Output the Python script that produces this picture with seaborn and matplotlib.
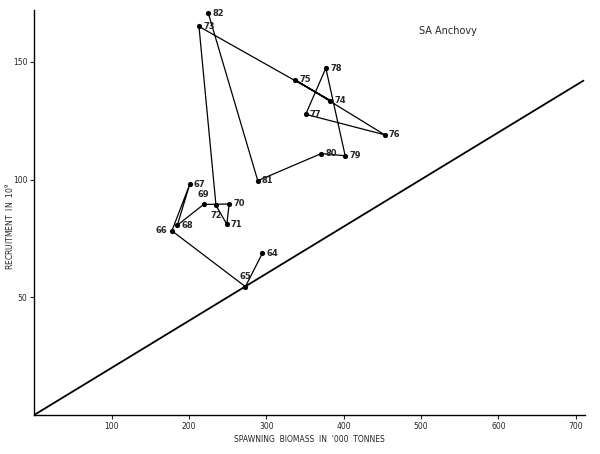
import matplotlib
matplotlib.use("Agg")
import matplotlib.pyplot as plt
import seaborn as sns
import pandas as pd

sns.set_theme(style="white")
plt.rcParams['font.family'] = ['DejaVu Sans']

# spawning biomass ('000 t) and recruitment (10^9) by year
years = ["64", "65", "66", "67", "68", "69", "70", "71", "72", "73", "74",
         "75", "76", "77", "78", "79", "80", "81", "82"]
biomass = [295, 273, 178, 201, 185, 219, 252, 249, 235, 213, 383,
           337, 453, 351, 377, 402, 371, 289, 225]
recruits = [68.7, 54.5, 78.2, 97.9, 80.6, 89.4, 89.6, 81.0, 89.0, 165.0, 133.5,
            142.4, 119.0, 127.7, 147.3, 110.1, 111.0, 99.5, 170.7]

# replacement line
rep_x = [0, 710]
rep_y = [0, 142]

df = pd.DataFrame({"year": years, "biomass": biomass, "recruits": recruits})

fig = plt.figure(figsize=(6, 4.54), dpi=100)
ax = fig.add_axes([0.057, 0.086, 0.918, 0.892])

sns.lineplot(x=rep_x, y=rep_y, ax=ax, color="black", lw=1.3)
sns.lineplot(data=df, x="biomass", y="recruits", sort=False, ax=ax,
             color="black", lw=0.9, estimator=None)
sns.scatterplot(data=df, x="biomass", y="recruits", ax=ax, color="black",
                s=14, linewidth=0, zorder=3)

# label placement (points offset), default right of the dot
offsets = {"66": (-3, 0, "right", "center"), "69": (0, 4, "center", "bottom"),
           "72": (0, -4, "center", "top"), "65": (0, 4, "center", "bottom")}
for yr, xv, yv in zip(years, biomass, recruits):
    dx, dy, ha, va = offsets.get(yr, (3, 0, "left", "center"))
    ax.annotate(yr, (xv, yv), xytext=(dx, dy), textcoords="offset points",
                ha=ha, va=va, fontsize=6, fontweight="bold")

ax.text(497, 163, "SA Anchovy", fontsize=7, ha="left", va="center")

ax.set_xlim(0, 712)
ax.set_ylim(0, 172)
ax.set_xticks([100, 200, 300, 400, 500, 600, 700])
ax.set_yticks([50, 100, 150])
ax.tick_params(axis="both", labelsize=5.5, length=3, width=0.8, direction="out",
               left=True, bottom=True, pad=2)
ax.set_xlabel("SPAWNING  BIOMASS  IN  '000  TONNES", fontsize=5.5, labelpad=3)
ax.set_ylabel("RECRUITMENT  IN  10$^9$", fontsize=5.5)
ax.yaxis.set_label_coords(-0.033, 0.465)
sns.despine(ax=ax)
for sp in ["left", "bottom"]:
    ax.spines[sp].set_color("black")
    ax.spines[sp].set_linewidth(1.0)

fig.savefig("out.png", dpi=100)
